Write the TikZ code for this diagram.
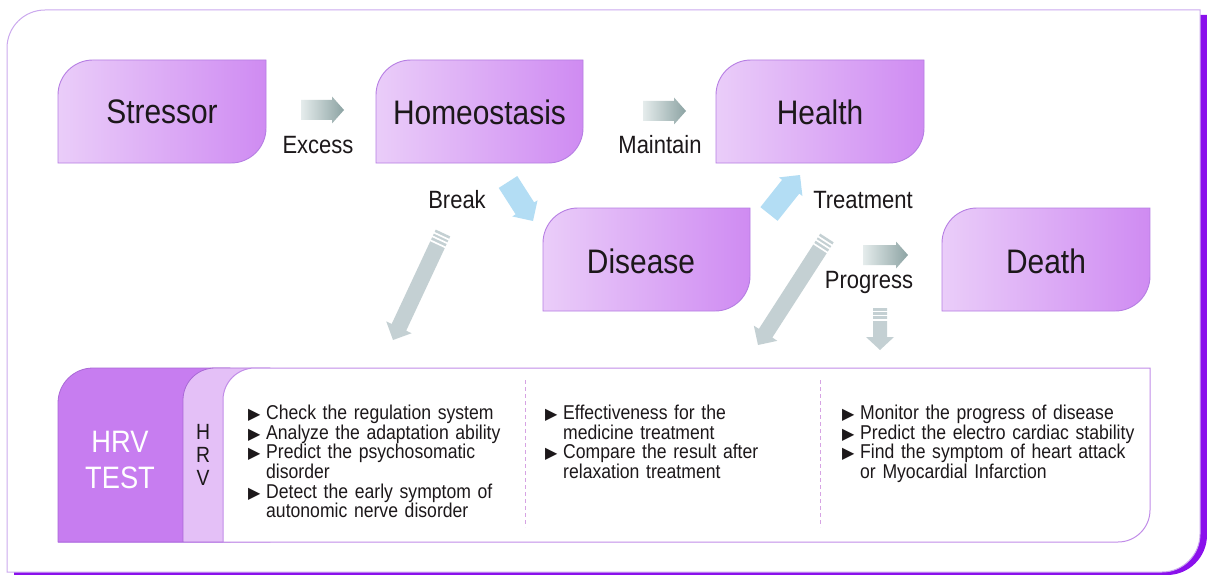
\documentclass[tikz,border=0pt]{standalone}
\usepackage{fontspec}
\setmainfont{Liberation Sans}[FakeStretch=0.88]
\newfontfamily\symfont{DejaVu Sans}
\usetikzlibrary{calc}
\definecolor{boxL}{HTML}{EACDF9}
\definecolor{boxR}{HTML}{CF8BF2}
\definecolor{boxB}{HTML}{B67EE3}
\definecolor{agL}{HTML}{E5ECEC}
\definecolor{agR}{HTML}{8CA3A3}
\definecolor{blueA}{HTML}{B3DDF4}
\definecolor{grayA}{HTML}{C4D0D3}
\definecolor{frameC}{HTML}{CBA9EE}
\definecolor{shadowC}{HTML}{8A10EC}
\definecolor{darkTab}{HTML}{C77DF0}
\definecolor{darkTabB}{HTML}{A968D6}
\definecolor{lightTab}{HTML}{E4C0F7}
\definecolor{panelB}{HTML}{C18CE8}
\definecolor{dashC}{HTML}{D6A3E3}
\definecolor{textC}{HTML}{1C181A}
% leaf shape: style, x1, y1, x2, y2, radius (pt)
\newcommand\leafshape[6]{%
  \path[#1] (#2,#5) -- (#2,#3+#6) arc[start angle=180,end angle=90,radius=#6 pt]
    -- (#4,#3) -- (#4,#5-#6) arc[start angle=0,end angle=-90,radius=#6 pt] -- cycle;}
% block arrow: style, A, B, half shaft, half head, head length
\newcommand\blockarrow[6]{%
  \coordinate (tmpC) at ($(#3)!#6!(#2)$);
  \path[#1] ($(#2)!#4!90:(#3)$) -- ($(tmpC)!#4!90:(#3)$) -- ($(tmpC)!#5!90:(#3)$)
    -- (#3) -- ($(tmpC)!#5!-90:(#3)$) -- ($(tmpC)!#4!-90:(#3)$) -- ($(#2)!#4!-90:(#3)$) -- cycle;}
% stripes on tail: A, B, half width
\newcommand\stripes[3]{%
  \foreach \d in {3.5pt,7.5pt,12pt}{%
    \coordinate (tmpP) at ($(#1)!\d!(#2)$);
    \draw[white,line width=1.7pt] ($(tmpP)!#3!90:(#2)$) -- ($(tmpP)!#3!-90:(#2)$);}}
\newcommand\bitem{\par\hangindent=18pt\hangafter=1\noindent\makebox[18pt][l]{\raisebox{0pt}{\symfont\fontsize{16}{16}\selectfont ▶}}}
\tikzset{
  boxtext/.style={text=textC,font=\fontsize{34}{38}\selectfont,inner sep=0pt},
  lbl/.style={text=textC,font=\fontsize{25}{28}\selectfont,inner sep=0pt},
  boxshape/.style={left color=boxL,right color=boxR,draw=boxB,line width=0.9pt},
  gradarrow/.style={left color=agL,right color=agR},
  bluearrow/.style={fill=blueA},
  grayarrow/.style={fill=grayA},
  listcol/.style={anchor=base west,text=textC,text width=300pt,inner sep=0pt,
     font=\fontsize{20}{19.6}\selectfont},
  divider/.style={draw=dashC,line width=0.9pt,dash pattern=on 4pt off 3pt},
}
\begin{document}
\begin{tikzpicture}[x=1pt,y=-1pt]
\useasboundingbox (0,0) rectangle (1207,575);
% outer frame with shadow
\leafshape{fill=shadowC}{14}{15}{1207}{575}{40}
\leafshape{fill=white,draw=frameC,line width=1pt}{7}{10}{1200}{572}{38}
% boxes
\leafshape{boxshape}{58}{60}{266}{163}{35}
\leafshape{boxshape}{376}{60}{583}{163}{35}
\leafshape{boxshape}{716}{60}{924}{163}{35}
\leafshape{boxshape}{543}{208}{750}{311}{35}
\leafshape{boxshape}{942}{208}{1150}{311}{35}
\node[boxtext] (stressor) at (162,112) {Stressor};
\node[boxtext] (homeo) at (479.5,112) {Homeostasis};
\node[boxtext] (health) at (820,112) {Health};
\node[boxtext] (disease) at (641,261) {Disease};
\node[boxtext] (death) at (1046,261) {Death};
% horizontal gradient arrows
\coordinate (exA) at (301,110); \coordinate (exB) at (344,110);
\coordinate (maA) at (643,111); \coordinate (maB) at (686,111);
\coordinate (prA) at (863,255); \coordinate (prB) at (908,255);
\blockarrow{gradarrow}{exA}{exB}{10pt}{13.5pt}{12pt}
\blockarrow{gradarrow}{maA}{maB}{10pt}{13.5pt}{12pt}
\blockarrow{gradarrow}{prA}{prB}{10pt}{13.5pt}{12pt}
% blue arrows
\coordinate (brA) at (508,182); \coordinate (brB) at (533,221);
\coordinate (trA) at (769,214); \coordinate (trB) at (800,175);
\blockarrow{bluearrow}{brA}{brB}{11pt}{15pt}{15pt}
\blockarrow{bluearrow}{trA}{trB}{11pt}{15pt}{15pt}
% long gray arrows
\coordinate (g1A) at (443,233); \coordinate (g1B) at (393,340);
\coordinate (g2A) at (827,238); \coordinate (g2B) at (758,345);
\coordinate (g3A) at (880,308); \coordinate (g3B) at (880,350);
\blockarrow{grayarrow}{g1A}{g1B}{8pt}{14pt}{14pt}
\blockarrow{grayarrow}{g2A}{g2B}{8pt}{14pt}{14pt}
\blockarrow{grayarrow}{g3A}{g3B}{7pt}{14pt}{13pt}
\stripes{g1A}{g1B}{10pt}
\stripes{g2A}{g2B}{10pt}
\stripes{g3A}{g3B}{9pt}
% labels
\node[lbl] (lexcess) at (318,145) {Excess};
\node[lbl] (lmaintain) at (660,145) {Maintain};
\node[lbl] (lbreak) at (457,200) {Break};
\node[lbl] (ltreat) at (863,200) {Treatment};
\node[lbl] (lprog) at (869,282) {Progress};
% bottom panel
\path[fill=darkTab,draw=darkTabB,line width=0.8pt] (58,542) -- (58,403) arc[start angle=180,end angle=90,radius=35pt] -- (230,368) -- (230,542) -- cycle;
\path[fill=lightTab,draw=darkTabB,line width=0.8pt] (183,542) -- (183,400) arc[start angle=180,end angle=90,radius=32pt] -- (270,368) -- (270,542) -- cycle;
\leafshape{fill=white,draw=panelB,line width=1pt}{223}{368}{1150}{542}{32}
\draw[panelB,line width=1pt] (58,542) -- (223,542);
\draw[divider] (525,380) -- (525,527);
\draw[divider] (820,380) -- (820,527);
\node[text=white,font=\fontsize{31}{36}\selectfont,align=center,inner sep=0pt] (hrvtest) at (120,460) {HRV\\TEST};
\node[text=textC,font=\fontsize{22}{23}\selectfont,align=center,inner sep=0pt] (hrvv) at (203,455) {H\\R\\V};
\node[listcol] (col1) at (248,400) {%
\bitem Check the regulation system
\bitem Analyze the adaptation ability
\bitem Predict the psychosomatic\newline disorder
\bitem Detect the early symptom of\newline autonomic nerve disorder\par};
\node[listcol] (col2) at (545,400) {%
\bitem Effectiveness for the\newline medicine treatment
\bitem Compare the result after\newline relaxation treatment\par};
\node[listcol] (col3) at (842,400) {%
\bitem Monitor the progress of disease
\bitem Predict the electro cardiac stability
\bitem Find the symptom of heart attack\newline or Myocardial Infarction\par};
\end{tikzpicture}
\end{document}
